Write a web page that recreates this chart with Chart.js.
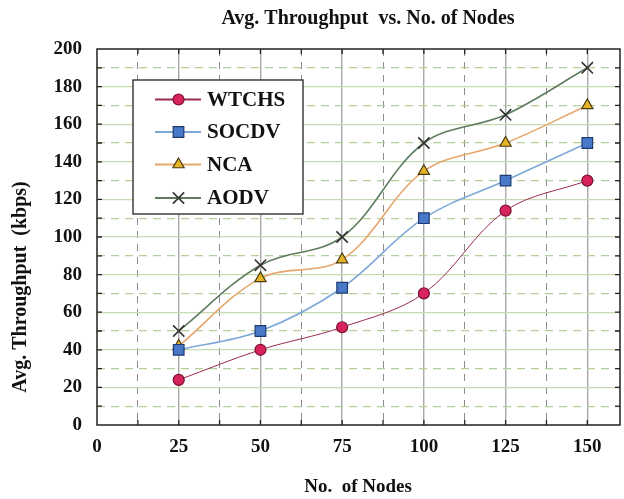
<!DOCTYPE html>
<html>
<head>
<meta charset="utf-8">
<script src="https://cdn.jsdelivr.net/npm/chart.js@4/dist/chart.umd.min.js"></script>
<style>
  html, body { margin: 0; padding: 0; background: #fff; }
  #wrap { width: 624px; height: 499px; }
</style>
</head>
<body>
<div id="wrap"><canvas id="c" width="624" height="499"></canvas></div>
<script>
const NODES = [25, 50, 75, 100, 125, 150];
const WTCHS = [24, 40, 52, 70, 114, 130];
const SOCDV = [40, 50, 73, 110, 130, 150];
const NCA   = [42, 78, 88, 135, 150, 170];
const AODV  = [50, 85, 100, 150, 165, 190];

const X_TICK_LABELS = [0, 25, 50, 75, 100, 125, 150];
const Y_TICK_LABELS = [0, 20, 40, 60, 80, 100, 120, 140, 160, 180, 200];

const TITLE = 'Avg. Throughput  vs. No. of Nodes';
const X_TITLE = 'No.  of Nodes';
const Y_TITLE = 'Avg. Throughput  (kbps)';

const FONT = "'Liberation Serif', 'DejaVu Serif', serif";

const toPts = arr => arr.map((y, i) => ({ x: NODES[i], y }));

const SERIES = [
  { label: 'WTCHS', data: WTCHS, line: '#9a2a50', width: 1, fill: '#d8245e', edge: '#7a1030', style: 'circle', r: 5.5 },
  { label: 'SOCDV', data: SOCDV, line: '#7ea8d8', width: 1.6, fill: '#4a78c8', edge: '#1d3b72', style: 'rect', r: 7.5 },
  { label: 'NCA',   data: NCA,   line: '#e6a66c', width: 1.6, fill: '#e4b425', edge: '#4a3c10', style: 'triangle', r: 6.5 },
  { label: 'AODV',  data: AODV,  line: '#5f7c5f', width: 1.6, fill: '#333', edge: '#333', style: 'crossRot', r: 8 },
];

const datasets = SERIES.map(s => ({
  label: s.label,
  data: toPts(s.data),
  borderColor: s.line,
  borderWidth: s.width,
  tension: 0.35,
  pointStyle: s.style,
  pointRadius: s.r,
  pointBackgroundColor: s.fill,
  pointBorderColor: s.edge,
  pointBorderWidth: s.style === 'crossRot' ? 1.6 : 1.2,
}));

function drawMarker(ctx, s, x, y) {
  ctx.save();
  ctx.fillStyle = s.fill;
  ctx.strokeStyle = s.edge;
  ctx.lineWidth = s.style === 'crossRot' ? 1.6 : 1.2;
  ctx.beginPath();
  if (s.style === 'circle') {
    ctx.arc(x, y, s.r, 0, Math.PI * 2);
    ctx.fill(); ctx.stroke();
  } else if (s.style === 'rect') {
    const h = s.r * Math.SQRT1_2;
    ctx.rect(x - h, y - h, 2 * h, 2 * h);
    ctx.fill(); ctx.stroke();
  } else if (s.style === 'triangle') {
    ctx.moveTo(x, y - s.r);
    ctx.lineTo(x + s.r * 0.866, y + s.r * 0.5);
    ctx.lineTo(x - s.r * 0.866, y + s.r * 0.5);
    ctx.closePath();
    ctx.fill(); ctx.stroke();
  } else {
    const o = s.r * Math.SQRT1_2;
    ctx.moveTo(x - o, y - o); ctx.lineTo(x + o, y + o);
    ctx.moveTo(x + o, y - o); ctx.lineTo(x - o, y + o);
    ctx.stroke();
  }
  ctx.restore();
}

const decor = {
  id: 'decor',
  afterDraw(chart) {
    const { ctx, chartArea: a, scales: { x, y } } = chart;
    ctx.save();
    // frame
    ctx.strokeStyle = '#222';
    ctx.lineWidth = 1.5;
    ctx.strokeRect(a.left, a.top, a.right - a.left, a.bottom - a.top);
    // inward tick marks
    ctx.lineWidth = 1.3;
    ctx.beginPath();
    for (let v = 10; v < 200; v += 10) {
      const py = y.getPixelForValue(v);
      ctx.moveTo(a.left, py); ctx.lineTo(a.left + 5, py);
      ctx.moveTo(a.right, py); ctx.lineTo(a.right - 5, py);
    }
    for (let v = 12.5; v < 160; v += 12.5) {
      const px = x.getPixelForValue(v);
      ctx.moveTo(px, a.bottom); ctx.lineTo(px, a.bottom - 5);
      ctx.moveTo(px, a.top); ctx.lineTo(px, a.top + 5);
    }
    ctx.stroke();

    // titles
    ctx.fillStyle = '#111';
    ctx.textAlign = 'center';
    ctx.textBaseline = 'middle';
    ctx.font = `bold 20px ${FONT}`;
    ctx.fillText(TITLE, 368, 19);
    ctx.font = `bold 19px ${FONT}`;
    ctx.fillText(X_TITLE, 358, 487);
    ctx.font = `bold 20px ${FONT}`;
    ctx.save();
    ctx.translate(21, 287);
    ctx.rotate(-Math.PI / 2);
    ctx.fillText(Y_TITLE, 0, 0);
    ctx.restore();

    // legend box
    const bx = 133, by = 80, bw = 170, bh = 134;
    ctx.fillStyle = '#fff';
    ctx.fillRect(bx, by, bw, bh);
    ctx.strokeStyle = '#222';
    ctx.lineWidth = 1.3;
    ctx.strokeRect(bx, by, bw, bh);
    const rows = [99.5, 132, 164.5, 198];
    SERIES.forEach((s, i) => {
      const ry = rows[i];
      ctx.strokeStyle = s.line;
      ctx.lineWidth = 1.8;
      ctx.beginPath();
      ctx.moveTo(155, ry); ctx.lineTo(201, ry);
      ctx.stroke();
      drawMarker(ctx, s, 178.5, ry);
      ctx.fillStyle = '#111';
      ctx.textAlign = 'left';
      ctx.font = `bold 21px ${FONT}`;
      ctx.fillText(s.label, 207, ry + 1);
    });
    ctx.restore();
  }
};

new Chart(document.getElementById('c'), {
  type: 'line',
  data: { datasets },
  plugins: [decor],
  options: {
    responsive: false,
    animation: false,
    layout: { autoPadding: false, padding: { top: 49, right: 4, bottom: 0, left: 0 } },
    plugins: { legend: { display: false }, title: { display: false }, tooltip: { enabled: false } },
    scales: {
      x: {
        type: 'linear',
        min: 0, max: 160,
        afterFit: s => { s.height = 74; },
        // gridlines every 12.5, labels only on the 25s
        afterBuildTicks: s => {
          const t = [];
          for (let v = 0; v <= 150; v += 12.5) t.push({ value: v });
          s.ticks = t;
        },
        ticks: {
          autoSkip: false,
          maxRotation: 0,
          padding: 11,
          color: '#111',
          font: { family: FONT, size: 19, weight: 'bold' },
          callback: v => X_TICK_LABELS.includes(v) ? String(v) : '',
        },
        grid: {
          drawTicks: false,
          color: c => {
            const v = c.tick && c.tick.value;
            if (v === 0) return 'rgba(0,0,0,0)';
            return v % 25 === 0 ? '#a8a8a8' : '#8c8c8c';
          },
          lineWidth: c => (c.tick && c.tick.value % 25 === 0) ? 1.4 : 1,
        },
        border: {
          display: false,
          dash: c => (c.tick && c.tick.value % 25 === 0) ? [] : [7, 6],
        },
      },
      y: {
        min: 0, max: 200,
        afterFit: s => { s.width = 97; },
        ticks: {
          stepSize: 10,
          autoSkip: false,
          padding: 15,
          color: '#111',
          font: { family: FONT, size: 19, weight: 'bold' },
          callback: v => Y_TICK_LABELS.includes(v) ? String(v) : '',
        },
        grid: {
          drawTicks: false,
          color: c => {
            const v = c.tick && c.tick.value;
            if (v === 0 || v === 200) return 'rgba(0,0,0,0)';
            return v % 20 === 0 ? '#c6dcb0' : '#b4d09a';
          },
          lineWidth: 1.2,
        },
        border: {
          display: false,
          dash: c => (c.tick && c.tick.value % 20 === 0) ? [] : [8, 6],
        },
      },
    },
  },
});
</script>
</body>
</html>
